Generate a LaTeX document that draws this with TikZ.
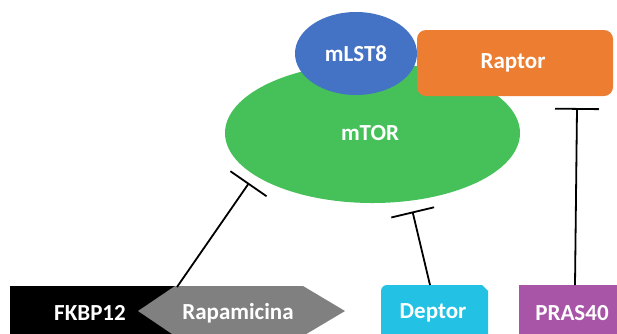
\documentclass[tikz,border=0pt]{standalone}
\usepackage{fontspec}
\setmainfont{Carlito}
\usetikzlibrary{arrows.meta,shapes.geometric}
\definecolor{mtorgreen}{RGB}{70,193,90}
\definecolor{mlstblue}{RGB}{68,114,196}
\definecolor{raptororange}{RGB}{237,125,49}
\definecolor{deptorcyan}{RGB}{35,193,227}
\definecolor{praspurple}{RGB}{168,85,168}
\definecolor{rapagray}{RGB}{128,128,128}
\begin{document}
\begin{tikzpicture}[x=1pt,y=-1pt,
  lbl/.style={text=white,font=\bfseries\fontsize{23}{27}\selectfont,inner sep=0pt},
  inhib/.style={line width=1.8pt,-{Bar[width=44pt,line width=1.8pt]}}]
\useasboundingbox (0,0) rectangle (617,333);
% mTOR
\node[ellipse,fill=mtorgreen,minimum width=295pt,minimum height=140pt,inner sep=0pt] (mtor) at (372.5,133) {};
% Raptor
\node[rectangle,rounded corners=9pt,fill=raptororange,minimum width=196pt,minimum height=66pt,inner sep=0pt] (raptor) at (515,63) {};
% mLST8
\node[ellipse,fill=mlstblue,minimum width=122pt,minimum height=83pt,inner sep=0pt] (mlst) at (356,53.5) {};
\node[lbl] (mtorlbl) at (370,133) {mTOR};
\node[lbl] (mlstlbl) at (356,54) {mLST8};
\node[lbl] (raptorlbl) at (513,63) {Raptor};
% FKBP12 / Rapamicina
\fill[black] (10,286) rectangle (180,340);
\fill[rapagray] (175,286) -- (303,286) -- (345,311) -- (303,336) -- (175,336) -- (138,311) -- cycle;
\node[lbl] (fkbp) at (90,313) {FKBP12};
\node[lbl] (rapa) at (238,313) {Rapamicina};
\coordinate (fkbptop) at (177,287);
% Deptor
\fill[deptorcyan] (381,340) -- (381,291) to[out=90,in=180] (387,285) -- (482,285) -- (488,291) -- (488,340) -- cycle;
\node[lbl] (deptor) at (433,313) {Deptor};
\coordinate (deptortop) at (430,285);
% PRAS40
\fill[praspurple] (519,285) rectangle (620,340);
\node[lbl] (pras) at (572,313) {PRAS40};
\coordinate (prastop) at (575,285);
% inhibitor ends
\coordinate (fkbpend) at (249,183);
\coordinate (deptorend) at (412.5,211.5);
\coordinate (rasend) at (577,108);
\draw[inhib] (fkbptop) -- (fkbpend);
\draw[inhib] (deptortop) -- (deptorend);
\draw[inhib] (prastop) -- (rasend);
\end{tikzpicture}
\end{document}
